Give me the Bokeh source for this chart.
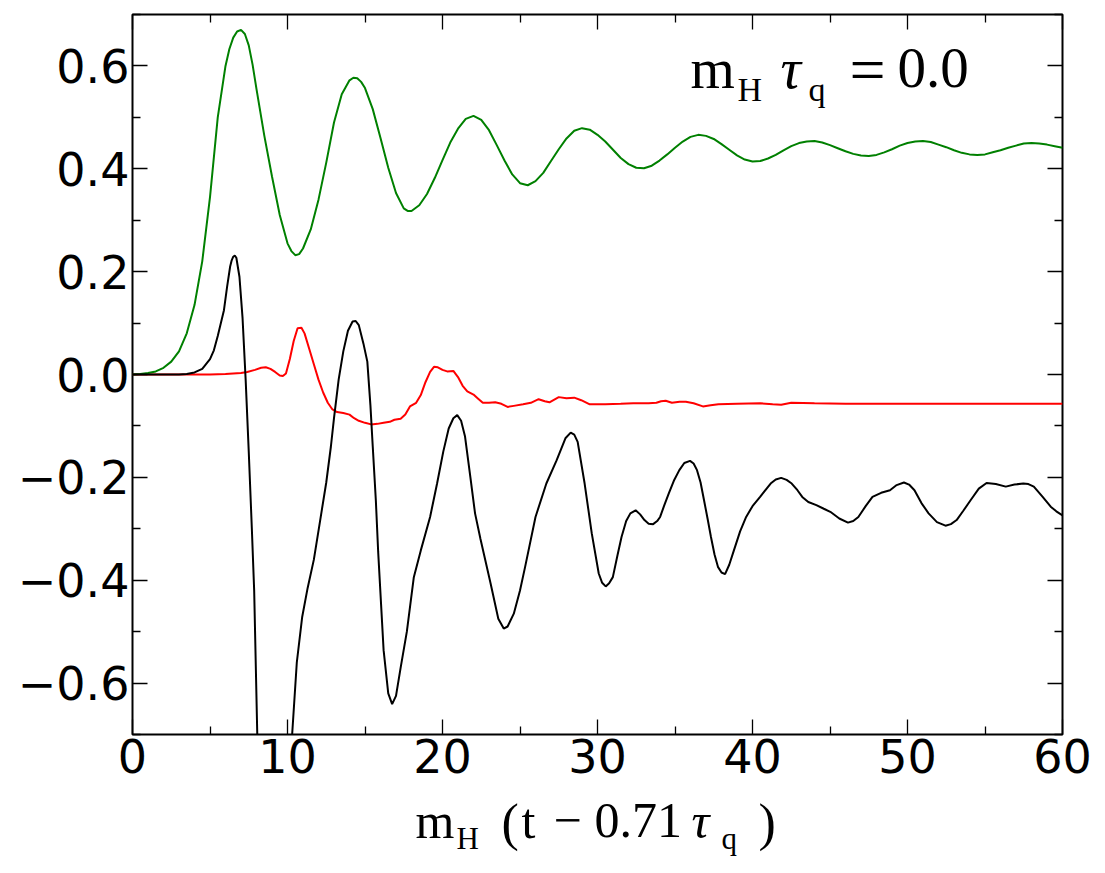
from bokeh.plotting import figure
from bokeh.layouts import column
from bokeh.models import (Range1d, LinearAxis, FixedTicker, CustomJSTickFormatter, Label,
                          CustomLabelingPolicy)
from bokeh.embed import file_html
from bokeh.resources import INLINE

# ---------------- data ----------------
x_ticks = [0, 10, 20, 30, 40, 50, 60]
x_minor = [5, 15, 25, 35, 45, 55]
x_tick_labels = ["0", "10", "20", "30", "40", "50", "60"]
y_ticks = [-0.6, -0.4, -0.2, 0.0, 0.2, 0.4, 0.6]
y_minor = [-0.7, -0.5, -0.3, -0.1, 0.1, 0.3, 0.5, 0.7]
y_tick_labels = ["\u22120.6", "\u22120.4", "\u22120.2", "0.0", "0.2", "0.4", "0.6"]

green_x = [0, 0.5, 1, 1.5, 2, 2.5, 3, 3.5, 4, 4.5,
           5, 5.5, 6, 6.25, 6.5, 6.75, 7, 7.25, 7.5, 7.75, 8, 8.5, 9, 9.5,
           10, 10.25, 10.5, 10.75, 11, 11.5, 12, 12.5, 13, 13.5, 14, 14.25, 14.5, 14.75,
           15, 15.5, 16, 16.5, 17, 17.5, 17.75, 18, 18.5, 19, 19.5,
           20, 20.5, 21, 21.5, 22, 22.5, 23, 23.5, 24, 24.5,
           25, 25.5, 26, 26.5, 27, 27.5, 28, 28.5, 29, 29.5,
           30, 30.5, 31, 31.5, 32, 32.5, 33, 33.5, 34, 34.5,
           35, 35.5, 36, 36.5, 37, 37.5, 38, 38.5, 39, 39.5,
           40, 40.5, 41, 41.5, 42, 42.5, 43, 43.5, 44, 44.5,
           45, 45.5, 46, 46.5, 47, 47.5, 48, 48.5, 49, 49.5,
           50, 50.5, 51, 51.5, 52, 52.5, 53, 53.5, 54, 54.5,
           55, 55.5, 56, 56.5, 57, 57.5, 58, 58.5, 59, 59.5, 60]
green_y = [0.000, 0.001, 0.003, 0.006, 0.013, 0.025, 0.045, 0.080, 0.135, 0.220,
           0.345, 0.500, 0.600, 0.633, 0.655, 0.667, 0.670, 0.662, 0.640, 0.602, 0.555, 0.465, 0.385, 0.310,
           0.255, 0.240, 0.232, 0.234, 0.245, 0.282, 0.340, 0.412, 0.490, 0.545, 0.572, 0.577, 0.576, 0.569,
           0.557, 0.516, 0.460, 0.402, 0.353, 0.323, 0.318, 0.318, 0.329, 0.351, 0.382,
           0.417, 0.451, 0.478, 0.497, 0.503, 0.495, 0.475, 0.446, 0.416, 0.389,
           0.372, 0.368, 0.376, 0.392, 0.415, 0.438, 0.459, 0.474, 0.479, 0.476,
           0.466, 0.453, 0.437, 0.421, 0.409, 0.402, 0.401, 0.406, 0.416, 0.428,
           0.441, 0.453, 0.462, 0.466, 0.464, 0.458, 0.448, 0.437, 0.426, 0.418,
           0.414, 0.415, 0.420, 0.427, 0.436, 0.444, 0.450, 0.453, 0.454, 0.451,
           0.446, 0.440, 0.434, 0.429, 0.426, 0.425, 0.427, 0.432, 0.438, 0.445,
           0.450, 0.453, 0.454, 0.452, 0.447, 0.442, 0.436, 0.431, 0.428, 0.427,
           0.428, 0.432, 0.436, 0.441, 0.445, 0.449, 0.450, 0.449, 0.447, 0.444, 0.441]

red_x = [0, 2, 4, 5, 6, 6.5, 7, 7.4, 7.9, 8.3, 8.6, 8.9, 9.2, 9.5, 9.7, 9.9,
         10.15, 10.4, 10.65, 10.9, 11.1, 11.4, 11.7, 12.0, 12.3, 12.6, 12.9, 13.2,
         13.6, 14.0, 14.3, 14.6, 15.0, 15.4, 15.8, 16.2, 16.6, 16.9, 17.3, 17.6,
         17.9, 18.3, 18.6, 18.9, 19.2, 19.45, 19.7, 20.0, 20.3, 20.7, 21.0, 21.3,
         21.6, 22.0, 22.3, 22.6, 23.0, 23.4, 23.8, 24.2, 24.6, 25.2, 25.7, 26.2,
         26.6, 26.9, 27.5, 28.0, 28.5, 28.95, 29.5, 30.5, 31.5, 32.3, 33.3, 33.8,
         34.1, 34.4, 34.8, 35.3, 35.7, 36.2, 36.8, 37.3, 37.8, 39.0, 40.5, 41.3,
         41.85, 42.5, 44, 46, 48, 50, 52, 54, 55.5, 57, 60]
red_y = [0, 0, 0, 0.0, 0.001, 0.002, 0.003, 0.005, 0.009, 0.013, 0.014, 0.011,
         0.005, -0.002, -0.003, 0.002, 0.03, 0.065, 0.09, 0.091, 0.08, 0.05, 0.02,
         -0.01, -0.035, -0.055, -0.068, -0.073, -0.075, -0.078, -0.085, -0.09,
         -0.094, -0.097, -0.096, -0.094, -0.092, -0.088, -0.086, -0.078, -0.062,
         -0.055, -0.04, -0.015, 0.005, 0.015, 0.014, 0.009, 0.006, 0.007, -0.005,
         -0.022, -0.033, -0.039, -0.047, -0.055, -0.055, -0.054, -0.057, -0.063,
         -0.061, -0.058, -0.055, -0.048, -0.052, -0.054, -0.044, -0.046, -0.045,
         -0.05, -0.058, -0.058, -0.057, -0.056, -0.056, -0.055, -0.052, -0.051,
         -0.055, -0.053, -0.053, -0.056, -0.062, -0.060, -0.058, -0.057, -0.056,
         -0.058, -0.059, -0.055, -0.056, -0.057, -0.057, -0.057, -0.057, -0.057,
         -0.057, -0.057, -0.057]

black_x = [0, 1, 2, 3, 3.5, 4.0, 4.5, 5.0, 5.25, 5.5, 5.9, 6.1, 6.3, 6.4, 6.5, 6.6, 6.7,
           6.9, 7.1, 7.3, 7.5, 7.7, 7.85, 8.05, 8.4, 8.9, 9.5, 10.0, 10.3, 10.6,
           10.95, 11.3, 11.7, 12.1, 12.5, 12.8, 13.0, 13.3, 13.6, 13.9, 14.2, 14.4,
           14.6, 14.9, 15.15, 15.35, 15.5, 15.7, 15.85, 16.2, 16.5, 16.75, 17.0,
           17.3, 17.7, 18.15, 18.6, 19.2, 19.65, 20.05, 20.4, 20.7, 20.95, 21.2,
           21.45, 21.8, 22.1, 22.45, 23.1, 23.6, 23.95, 24.2, 24.6, 25.0, 25.33,
           26.0, 26.7, 27.36, 27.93, 28.27, 28.5, 28.72, 29.17, 29.63, 30.08, 30.3,
           30.53, 30.75, 30.99, 31.3, 31.55, 31.85, 32.12, 32.46, 32.75, 33.03,
           33.3, 33.59, 33.85, 34.04, 34.3, 34.6, 34.95, 35.28, 35.6, 35.97, 36.2,
           36.42, 36.65, 36.87, 37.1, 37.32, 37.55, 37.77, 38.0, 38.23, 38.5, 38.8,
           39.2, 39.59, 40.0, 40.49, 41.17, 41.5, 41.85, 42.2, 42.53, 42.9, 43.21,
           43.6, 44.12, 44.6, 45.02, 45.6, 46.16, 46.5, 46.83, 47.3, 47.74, 48.3,
           48.87, 49.3, 49.77, 50.1, 50.45, 50.9, 51.36, 51.9, 52.45, 52.8, 53.17,
           53.6, 54.08, 54.6, 55.1, 55.7, 56.34, 56.9, 57.47, 57.8, 58.15, 58.72,
           59.24, 59.6, 60.0]
black_y = [0, 0, 0, 0.0, 0.001, 0.004, 0.011, 0.030, 0.047, 0.075, 0.125, 0.17,
           0.21, 0.222, 0.229, 0.231, 0.227, 0.19, 0.11, -0.01, -0.15, -0.30, -0.42, -0.70,
           -0.95, -1.10, -1.05, -0.85, -0.70, -0.56, -0.471, -0.415, -0.36, -0.285,
           -0.21, -0.14, -0.085, -0.01, 0.045, 0.085, 0.103, 0.104, 0.096, 0.06,
           0.025, -0.06, -0.14, -0.245, -0.345, -0.536, -0.62, -0.641, -0.625,
           -0.57, -0.50, -0.394, -0.342, -0.277, -0.212, -0.15, -0.105, -0.085,
           -0.079, -0.09, -0.12, -0.2, -0.27, -0.32, -0.406, -0.475, -0.494, -0.49,
           -0.465, -0.42, -0.374, -0.277, -0.212, -0.167, -0.124, -0.113, -0.117,
           -0.131, -0.212, -0.309, -0.387, -0.405, -0.412, -0.406, -0.394, -0.35,
           -0.316, -0.285, -0.270, -0.264, -0.272, -0.283, -0.290, -0.291, -0.285,
           -0.277, -0.255, -0.231, -0.205, -0.186, -0.172, -0.168, -0.173, -0.186,
           -0.21, -0.244, -0.28, -0.316, -0.35, -0.374, -0.385, -0.388, -0.37,
           -0.342, -0.305, -0.277, -0.256, -0.238, -0.212, -0.204, -0.201, -0.205,
           -0.212, -0.225, -0.238, -0.248, -0.254, -0.261, -0.267, -0.28, -0.288,
           -0.285, -0.277, -0.256, -0.238, -0.23, -0.225, -0.215, -0.210, -0.214,
           -0.225, -0.25, -0.270, -0.287, -0.294, -0.291, -0.283, -0.265, -0.244,
           -0.222, -0.211, -0.213, -0.218, -0.214, -0.212, -0.213, -0.218, -0.238,
           -0.257, -0.266, -0.274]

# ---------------- layout constants (page pixels) ----------------
W = 1105
H_MAIN, H_LAB = 792, 81
L, R, T, B = 132, 1062, 14, 734   # frame edges of the main plot

p = figure(width=W, height=H_MAIN, output_backend="svg", toolbar_location=None,
           x_range=Range1d(0, 60), y_range=Range1d(-0.7, 0.7),
           min_border_left=L, min_border_right=W - R,
           min_border_top=T, min_border_bottom=H_MAIN - B)
p.grid.visible = False
p.background_fill_color = "white"
p.border_fill_color = "white"
p.outline_line_color = "black"
p.outline_line_width = 2
p.outline_line_alpha = 1

p.line(red_x, red_y, line_color="#ff0000", line_width=2)
p.line(green_x, green_y, line_color="#008000", line_width=2)
p.line(black_x, black_y, line_color="black", line_width=2)

fmt_js = """
let best = 0;
for (let i = 0; i < vals.length; i++) {
  if (Math.abs(vals[i] - tick) < Math.abs(vals[best] - tick)) best = i;
}
return labs[best];
"""
xfmt = CustomJSTickFormatter(args=dict(vals=x_ticks, labs=x_tick_labels), code=fmt_js)
yfmt = CustomJSTickFormatter(args=dict(vals=y_ticks, labs=y_tick_labels), code=fmt_js)

no_labels = CustomLabelingPolicy(code="""
const all = [...indices];
for (const i of all) indices.unset(i);
return indices;
""")


def style_axis(ax, show_labels, standoff=4):
    ax.axis_line_color = None
    ax.major_tick_in = 15
    ax.major_tick_out = 0
    ax.minor_tick_in = 8
    ax.minor_tick_out = 0
    ax.major_tick_line_color = "black"
    ax.minor_tick_line_color = "black"
    ax.major_tick_line_width = 1.3
    ax.minor_tick_line_width = 1.3
    if show_labels:
        ax.major_label_text_font = "DejaVu Sans"
        ax.major_label_text_font_size = "46px"
        ax.major_label_text_color = "black"
        ax.major_label_standoff = standoff
    else:
        ax.major_label_policy = no_labels
        ax.major_label_text_font_size = "1px"
        ax.major_label_standoff = 0


xb = p.xaxis[0]
xb.ticker = FixedTicker(ticks=x_ticks, minor_ticks=x_minor)
xb.formatter = xfmt
style_axis(xb, True, standoff=4)

yl = p.yaxis[0]
yl.ticker = FixedTicker(ticks=y_ticks, minor_ticks=y_minor)
yl.formatter = yfmt
style_axis(yl, True, standoff=3)

xt = LinearAxis(ticker=FixedTicker(ticks=x_ticks, minor_ticks=x_minor), formatter=xfmt)
style_axis(xt, False)
p.add_layout(xt, "above")

yr = LinearAxis(ticker=FixedTicker(ticks=y_ticks, minor_ticks=y_minor), formatter=yfmt)
style_axis(yr, False)
p.add_layout(yr, "right")

# label strip under the main plot for the x-axis title (same side borders as main plot)
q = figure(width=W, height=H_LAB, output_backend="svg", toolbar_location=None,
           x_axis_type=None, y_axis_type=None, x_range=Range1d(0, 1), y_range=Range1d(0, 1),
           min_border_left=L, min_border_right=W - R, min_border_top=0, min_border_bottom=0)
q.outline_line_color = None
q.grid.visible = False
q.background_fill_color = "white"
q.border_fill_color = "white"

SERIF = "Liberation Serif"
MID = 0.34   # distance from baseline to the middle of the em box, in em


def put(fig, left, bottom, text, cx, cy, size, italic=False):
    """Place a text piece with left edge at page x=cx and baseline at page y=cy."""
    ymid = cy - MID * size
    fig.add_layout(Label(x=cx - left, y=bottom - ymid, x_units="screen", y_units="screen",
                         text=text, text_font=SERIF, text_font_size=f"{size}px",
                         text_font_style="italic" if italic else "normal",
                         text_color="black", text_align="left",
                         text_baseline="middle"))


# annotation  m_H tau_q = 0.0  (inside main frame)
def ann(text, cx, cy, size, italic=False):
    put(p, L, B, text, cx, cy, size, italic)


ann("m", 690, 87, 57)
ann("H", 737, 101, 34)
ann("\u03c4", 780, 87, 57, italic=True)
ann("q", 808, 101, 34)
ann("=", 849, 91, 64)
ann("0.0", 897, 87, 57)


# x axis title  m_H (t - 0.71 tau_q)  (label strip spans page y H_MAIN..H_MAIN+H_LAB)
def xl(text, cx, cy, size, italic=False):
    put(q, L, H_MAIN + H_LAB, text, cx, cy, size, italic)


xl("m", 415, 837, 50)
xl("H", 456, 849, 31)
xl("(", 501, 840, 52)
xl("t", 521, 837, 50)
xl("\u2212", 553, 837, 50)
xl("0.71", 594, 837, 50)
xl("\u03c4", 691, 837, 50, italic=True)
xl("q", 721, 849, 31)
xl(")", 758, 840, 52)

layout = column(p, q, spacing=0)
open("out.html", "w").write(file_html(layout, INLINE))
